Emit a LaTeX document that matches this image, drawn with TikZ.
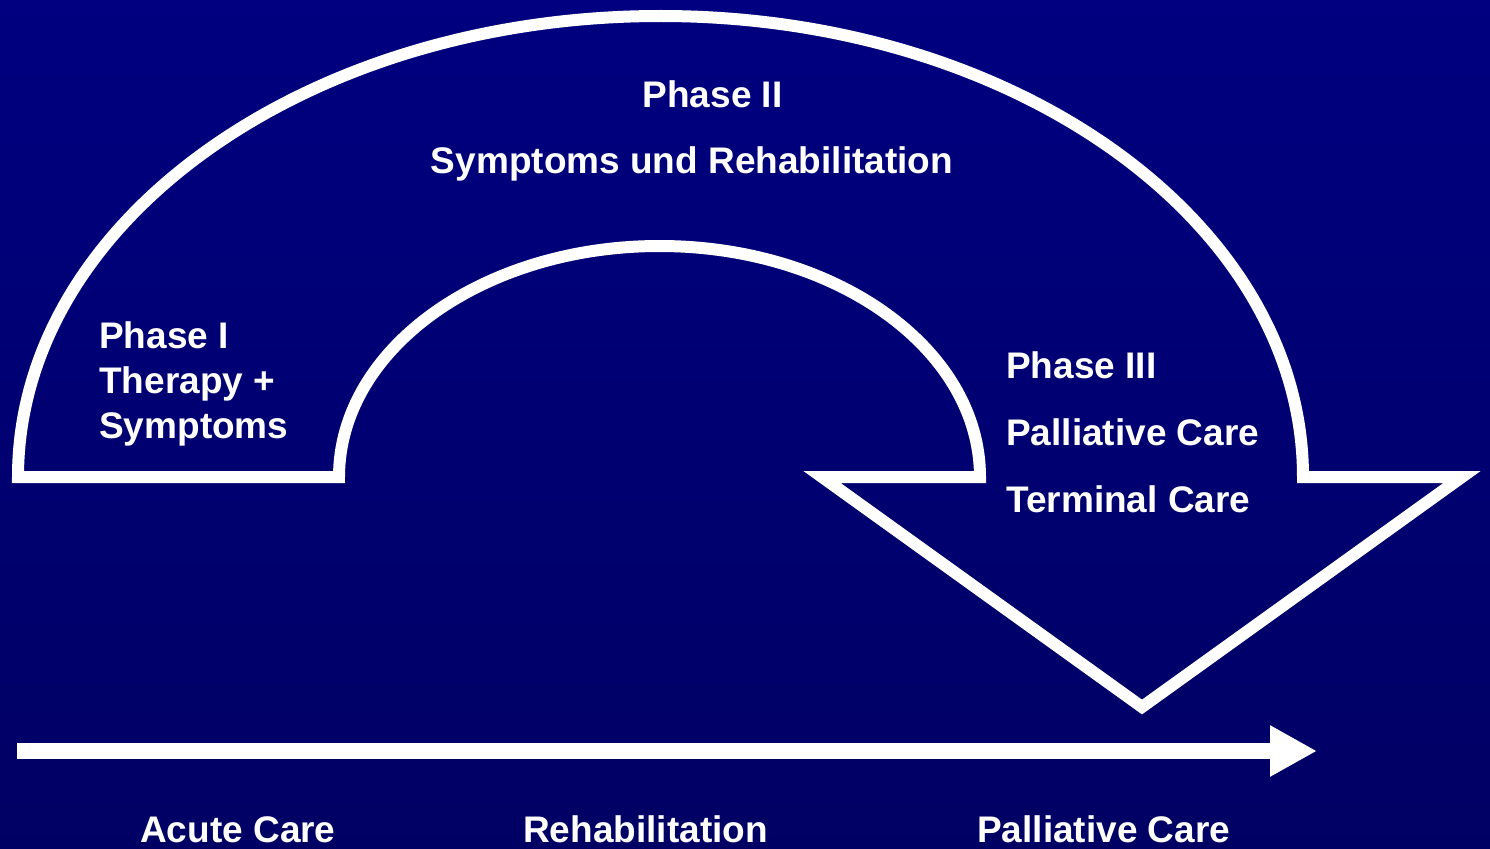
\documentclass[tikz,border=0pt]{standalone}
\usepackage{fontspec}
\setmainfont{Liberation Sans}
\usepackage{tikz}
\usetikzlibrary{arrows.meta}

\tikzset{
  lbl/.style={text=white, inner sep=0pt, font=\fontsize{27.75}{33}\selectfont\bfseries},
  whiteline/.style={draw=white, line width=9pt, line join=miter}
}

\begin{document}
\begin{tikzpicture}[x=0.75pt,y=0.75pt,yscale=-1,xscale=1]
\useasboundingbox (0,0) rectangle (1490,849);

%Shape: Background
\shade [top color={rgb,255:red,0;green,0;blue,128}, middle color={rgb,255:red,0;green,0;blue,160}, bottom color={rgb,255:red,0;green,0;blue,100}] (0,0) rectangle (1490,849) ;

%Shape: Curved arrow
\draw [whiteline]   (18,477) -- (339,477) arc[start angle=180, end angle=360, x radius=320.5, y radius=231] -- (822,477) -- (1142,707) -- (1462,477) -- (1303,477) arc[start angle=0, end angle=-180, x radius=642.5, y radius=461] -- cycle ;

%Straight Lines: time axis
\coordinate (axisstart) at (17,751) ;
\coordinate (axisend) at (1317,751) ;
\draw [draw=white, line width=12pt, -{Triangle[length=35.25pt, width=36pt]}]   (axisstart) -- (axisend) ;

%Phase I
\node [lbl, anchor=base west] (p1a) at (99,348) {Phase I};
\node [lbl, anchor=base west] (p1b) at (99,393) {Therapy +};
\node [lbl, anchor=base west] (p1c) at (99,438) {Symptoms};

%Phase II
\node [lbl, anchor=base] (p2a) at (712.5,108) {Phase II};
\node [lbl, anchor=base] (p2b) at (692,174) {Symptoms und Rehabilitation};

%Phase III
\node [lbl, anchor=base west] (p3a) at (1006,378) {Phase III};
\node [lbl, anchor=base west] (p3b) at (1006,445) {Palliative Care};
\node [lbl, anchor=base west] (p3c) at (1006,512) {Terminal Care};

%Axis labels
\node [lbl, anchor=base west] (acute) at (140,842) {Acute Care};
\node [lbl, anchor=base west] (rehab) at (523,842) {Rehabilitation};
\node [lbl, anchor=base west] (palli) at (977,842) {Palliative Care};

\end{tikzpicture}
\end{document}
